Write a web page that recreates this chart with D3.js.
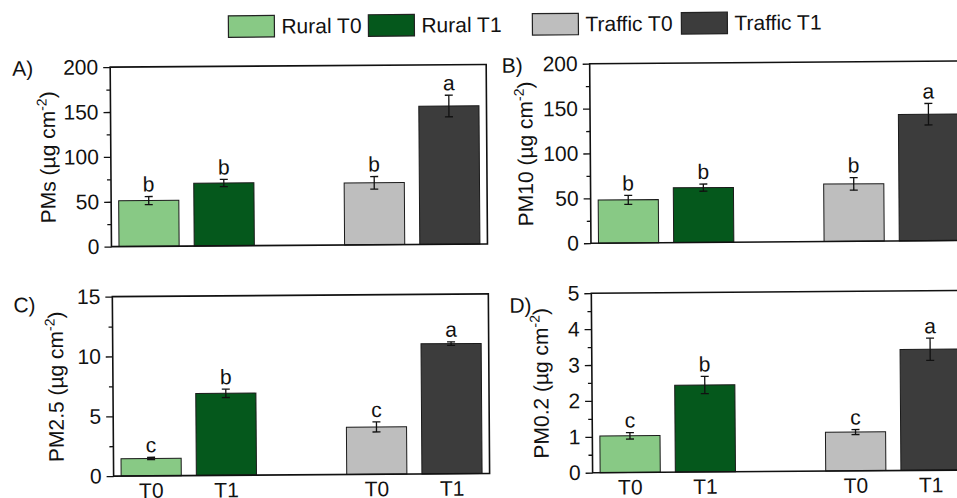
<!DOCTYPE html>
<html>
<head>
<meta charset="utf-8">
<script src="https://cdn.jsdelivr.net/npm/d3@7"></script>
<style>
  body { margin: 0; background: #fff; }
  svg { display: block; font-family: Arial, "Liberation Sans", sans-serif; }
</style>
</head>
<body>
<script>
// groups on the x axis (Origin-style category positions, gap at 3)
var groups = ["Rural T0", "Rural T1", "Traffic T0", "Traffic T1"];
var xPos = [1, 2, 4, 5];
var xLabels = ["T0", "T1", "T0", "T1"];
var colors = ["#88c985", "#05581c", "#bebebe", "#3c3c3c"];

var pmsMean = [51, 70, 69, 154];
var pmsErr = [4.5, 4, 7, 12];
var pmsLetters = ["b", "b", "b", "a"];

var pm10Mean = [48, 61, 64, 141];
var pm10Err = [5, 4, 7, 12];
var pm10Letters = ["b", "b", "b", "a"];

var pm25Mean = [1.45, 6.85, 3.95, 10.87];
var pm25Err = [0.1, 0.35, 0.42, 0.15];
var pm25Letters = ["c", "b", "c", "a"];

var pm02Mean = [1.02, 2.42, 1.08, 3.37];
var pm02Err = [0.09, 0.24, 0.07, 0.31];
var pm02Letters = ["c", "b", "c", "a"];

var panels = [
  { tag: "A)", name: "PMs", mean: pmsMean, err: pmsErr, letters: pmsLetters,
    max: 200, major: 50, x: 111.5, y: 64.5, titleOff: 63, tagDx: -98, tagDy: 8, xlab: false },
  { tag: "B)", name: "PM10", mean: pm10Mean, err: pm10Err, letters: pm10Letters,
    max: 200, major: 50, x: 591, y: 64.5, titleOff: 65, tagDx: -88, tagDy: 8.5, xlab: false },
  { tag: "C)", name: "PM2.5", mean: pm25Mean, err: pm25Err, letters: pm25Letters,
    max: 15, major: 5, x: 112, y: 294, titleOff: 57, tagDx: -99, tagDy: 15, xlab: true },
  { tag: "D)", name: "PM0.2", mean: pm02Mean, err: pm02Err, letters: pm02Letters,
    max: 5, major: 1, x: 591, y: 294, titleOff: 51, tagDx: -82, tagDy: 19, xlab: true }
];

var W = 957, H = 498;
var pw = 376, ph = 179.5;
var fs = 21;

var svg = d3.select("body").append("svg")
  .attr("width", W)
  .attr("height", H);

// the original figure is slightly tilted
var root = svg.append("g").attr("transform", "rotate(-0.41 478 249)");

// legend
var legendX = [230, 370, 534, 683];
var leg = root.append("g");
groups.forEach(function (name, i) {
  leg.append("rect")
    .attr("x", legendX[i]).attr("y", 14)
    .attr("width", 46).attr("height", 21.5)
    .attr("fill", colors[i])
    .attr("stroke", "#222").attr("stroke-width", 1.2);
  leg.append("text")
    .attr("x", legendX[i] + 53).attr("y", 32)
    .attr("font-size", fs)
    .attr("fill", "#111")
    .text(name);
});

panels.forEach(function (p) {
  var g = root.append("g").attr("transform", `translate(${p.x},${p.y})`);

  var x = d3.scaleLinear().domain([0.5, 5.5]).range([0, pw]);
  var y = d3.scaleLinear().domain([0, p.max]).range([ph, 0]);
  var bw = x(1.4) - x(0.6);

  var rows = groups.map(function (gname, i) {
    return { i: i, pos: xPos[i], v: p.mean[i], e: p.err[i], l: p.letters[i], lab: xLabels[i] };
  });

  // bars
  g.selectAll("rect.bar").data(rows).enter().append("rect")
    .attr("class", "bar")
    .attr("x", d => x(d.pos) - bw / 2)
    .attr("y", d => y(d.v))
    .attr("width", bw)
    .attr("height", d => y(0) - y(d.v))
    .attr("fill", d => colors[d.i])
    .attr("stroke", "#1a1a1a")
    .attr("stroke-width", 1);

  // error bars
  var eb = g.selectAll("g.err").data(rows).enter().append("g")
    .attr("class", "err")
    .attr("stroke", "#111").attr("stroke-width", 1.3);
  eb.append("line")
    .attr("x1", d => x(d.pos)).attr("x2", d => x(d.pos))
    .attr("y1", d => y(d.v - d.e)).attr("y2", d => y(d.v + d.e));
  eb.append("line")
    .attr("x1", d => x(d.pos) - 4).attr("x2", d => x(d.pos) + 4)
    .attr("y1", d => y(d.v + d.e)).attr("y2", d => y(d.v + d.e));
  eb.append("line")
    .attr("x1", d => x(d.pos) - 4).attr("x2", d => x(d.pos) + 4)
    .attr("y1", d => y(d.v - d.e)).attr("y2", d => y(d.v - d.e));

  // significance letters
  g.selectAll("text.sig").data(rows).enter().append("text")
    .attr("class", "sig")
    .attr("x", d => x(d.pos))
    .attr("y", d => y(d.v + d.e) - 5)
    .attr("text-anchor", "middle")
    .attr("font-size", fs)
    .attr("fill", "#111")
    .text(d => d.l);

  // y axis with minor ticks
  var majorTicks = d3.range(0, p.max + p.major / 2, p.major);
  var minorTicks = d3.range(p.major / 2, p.max, p.major);
  var yMinor = g.append("g")
    .call(d3.axisLeft(y).tickValues(minorTicks).tickSize(4).tickFormat(""));
  yMinor.select(".domain").remove();
  yMinor.selectAll("line").attr("stroke", "#111").attr("stroke-width", 1.3);

  var yAxis = g.append("g")
    .call(d3.axisLeft(y).tickValues(majorTicks).tickSize(7).tickPadding(5)
      .tickFormat(d3.format("~g")));
  yAxis.select(".domain").remove();
  yAxis.selectAll("line").attr("stroke", "#111").attr("stroke-width", 1.3);
  yAxis.selectAll("text")
    .attr("font-size", fs)
    .attr("font-family", "Arial, 'Liberation Sans', sans-serif")
    .attr("fill", "#111");

  // frame
  g.append("rect")
    .attr("x", 0).attr("y", 0)
    .attr("width", pw).attr("height", ph)
    .attr("fill", "none")
    .attr("stroke", "#111").attr("stroke-width", 1.6);

  // x labels (bottom row only)
  if (p.xlab) {
    g.selectAll("text.xl").data(rows).enter().append("text")
      .attr("class", "xl")
      .attr("x", d => x(d.pos))
      .attr("y", ph + 22)
      .attr("text-anchor", "middle")
      .attr("font-size", 21)
      .attr("fill", "#111")
      .text(d => d.lab);
  }

  // y title
  var t = g.append("text")
    .attr("transform", `translate(${-p.titleOff},${ph / 2}) rotate(-90)`)
    .attr("text-anchor", "middle")
    .attr("dy", "0.35em")
    .attr("font-size", fs)
    .attr("fill", "#111");
  t.append("tspan").text(p.name + " (\u00b5g cm");
  t.append("tspan").attr("font-size", 14).attr("dy", "-0.6em").text("-2");
  t.append("tspan").attr("dy", "0.4em").text(")");

  // panel tag
  g.append("text")
    .attr("x", p.tagDx).attr("y", p.tagDy)
    .attr("font-size", fs)
    .attr("fill", "#111")
    .text(p.tag);
});
</script>
</body>
</html>
